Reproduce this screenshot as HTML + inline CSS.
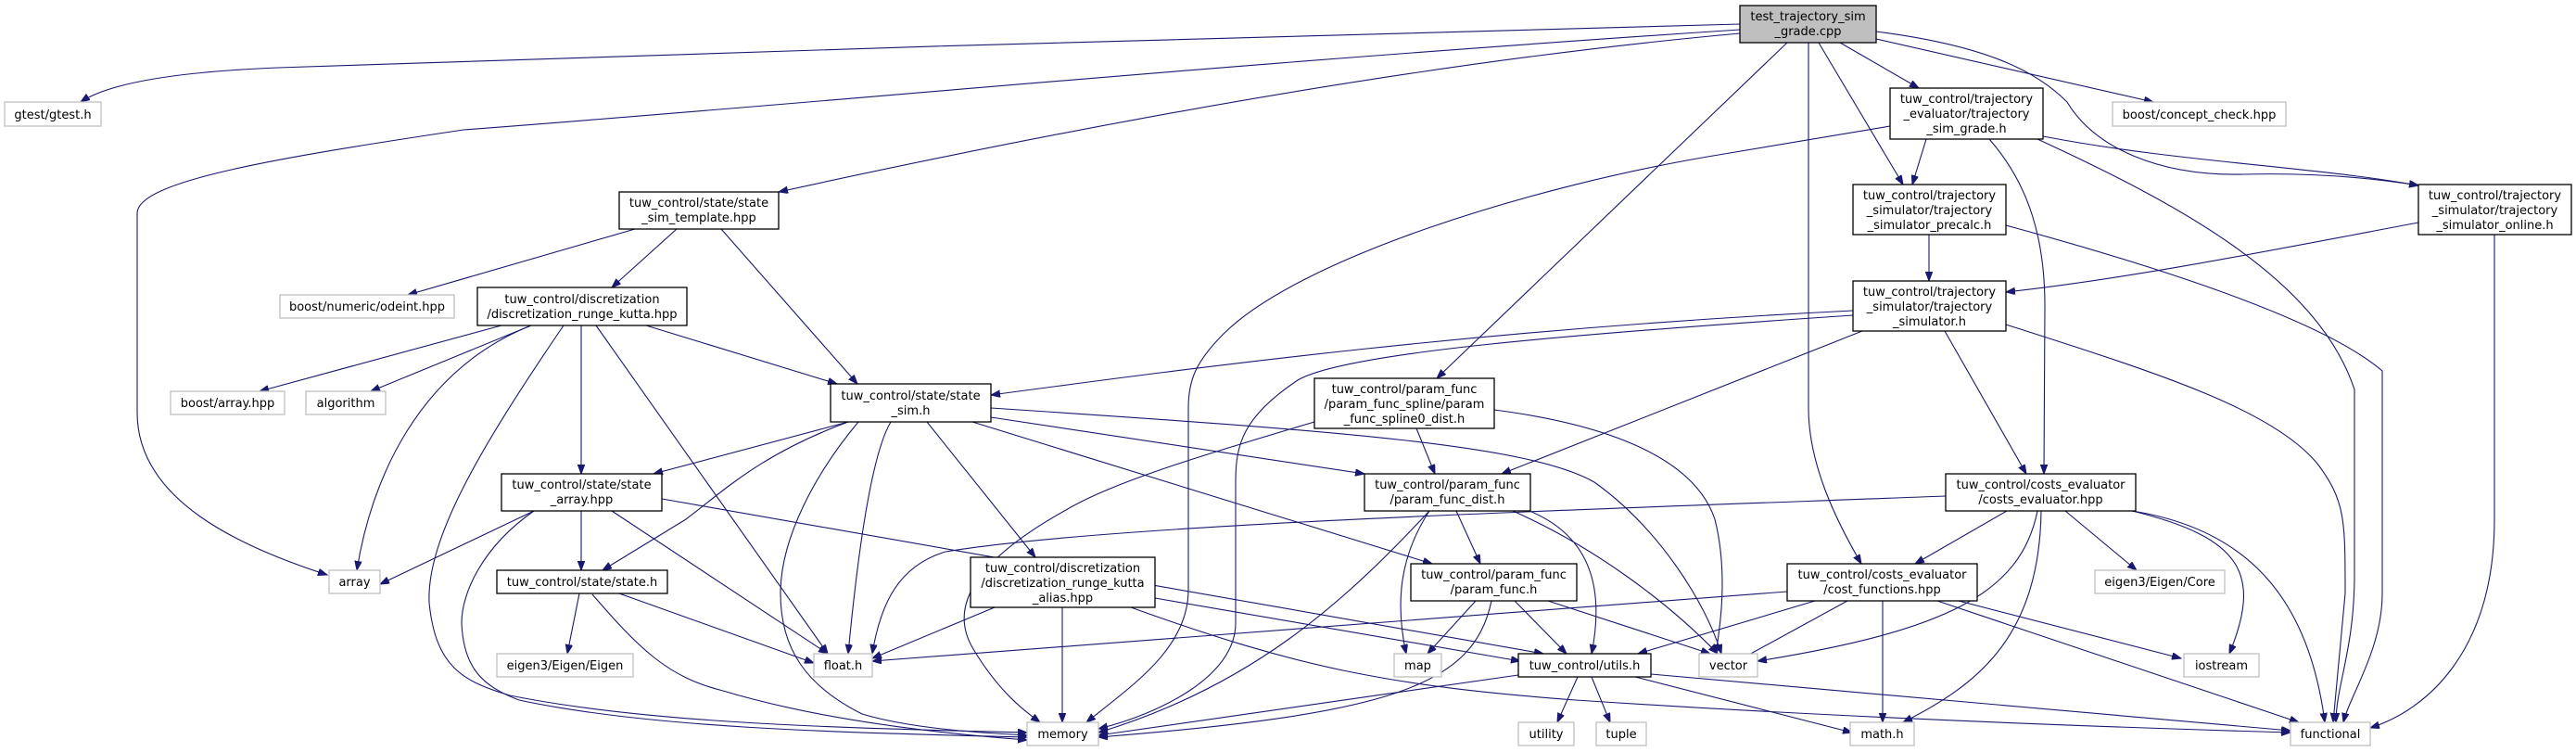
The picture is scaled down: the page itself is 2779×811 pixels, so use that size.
<!DOCTYPE html>
<html><head><meta charset="utf-8"><style>
html,body{margin:0;padding:0;background:#fff;}
svg{display:block;}
text{font-family:"DejaVu Sans","Liberation Sans",sans-serif;font-size:13px;fill:#000;}
.e{fill:none;stroke:#191970;stroke-width:1.1;marker-end:url(#a);}
.n{fill:#fff;stroke:#000;stroke-width:1.3;}
.x{fill:#fff;stroke:#bfbfbf;stroke-width:1.3;}
.t{fill:#bfbfbf;stroke:#000;stroke-width:1.3;}
</style></head><body>
<svg width="2779" height="811" viewBox="0 0 2779 811" xmlns="http://www.w3.org/2000/svg">
<defs><marker id="a" markerUnits="userSpaceOnUse" markerWidth="11" markerHeight="8" refX="10" refY="3.75" orient="auto"><path d="M0,0 L10,3.75 L0,7.5 z" fill="#191970" stroke="#191970"/></marker></defs>
<g>
<path class="e" d="M1877,26 C1400,38 800,55 300,73 C200,77 120,88 87,110"/>
<path class="e" d="M1877,32 C1300,70 900,110 500,140 C300,170 148,195 148,230 L148,445 C148,540 260,590 353,620"/>
<path class="e" d="M1877,36 C1500,70 1100,150 840,207"/>
<path class="e" d="M1928,46 L1550,408"/>
<path class="e" d="M1962,46 L2053,199"/>
<path class="e" d="M1985,46 L2070,95"/>
<path class="e" d="M2024,42 L2323,110"/>
<path class="e" d="M2024,34 C2150,50 2200,80 2230,110 C2260,160 2330,190 2420,188 C2500,186 2560,192 2609,200"/>
<path class="e" d="M1951,46 L1951,440 C1951,500 1980,560 2008,608"/>
<path class="e" d="M2039,136 L1860,166 C1650,200 1400,280 1320,360 C1290,390 1282,410 1282,440 L1282,636 C1282,700 1220,740 1172,779"/>
<path class="e" d="M2078,150 L2063,199"/>
<path class="e" d="M2146,150 C2190,200 2206,260 2206,330 L2205,511"/>
<path class="e" d="M2198,150 C2350,220 2500,300 2540,420 L2540,620 C2540,700 2520,740 2520,779"/>
<path class="e" d="M2204,147 C2350,175 2500,180 2609,200"/>
<path class="e" d="M2081,253 L2081,303"/>
<path class="e" d="M2164,243 C2300,280 2500,340 2570,400 L2570,640 C2570,700 2535,750 2528,779"/>
<path class="e" d="M2609,240 C2450,270 2300,300 2164,315"/>
<path class="e" d="M2691,253 L2691,560 C2691,700 2620,765 2557,785"/>
<path class="e" d="M1999,335 C1600,355 1300,395 1069,426"/>
<path class="e" d="M1999,340 C1700,360 1450,380 1400,410 C1340,450 1333,480 1333,520 L1333,672 C1333,730 1250,770 1185,786"/>
<path class="e" d="M2009,357 L1620,511"/>
<path class="e" d="M2098,357 L2186,511"/>
<path class="e" d="M2164,350 C2320,400 2450,440 2500,500 C2530,540 2530,560 2530,640 L2517,779"/>
<path class="e" d="M2099,535 C1700,550 1200,565 1020,595 C970,610 950,650 941,705"/>
<path class="e" d="M2165,551 L2066,608"/>
<path class="e" d="M2198,551 C2180,640 2100,680 1896,713"/>
<path class="e" d="M2202,551 C2200,690 2130,740 2053,779"/>
<path class="e" d="M2228,551 L2305,615"/>
<path class="e" d="M2300,551 C2420,580 2440,620 2405,705"/>
<path class="e" d="M2300,551 C2420,570 2490,640 2508,779"/>
<path class="e" d="M1928,638 L941,713"/>
<path class="e" d="M1958,648 L1767,705"/>
<path class="e" d="M1993,648 L1874,713"/>
<path class="e" d="M2031,648 L2031,779"/>
<path class="e" d="M2113,648 L2353,710"/>
<path class="e" d="M2090,648 L2480,779"/>
<path class="e" d="M685,247 L440,318"/>
<path class="e" d="M730,247 L660,310"/>
<path class="e" d="M778,247 L925,414"/>
<path class="e" d="M541,351 L280,422"/>
<path class="e" d="M573,351 L400,422"/>
<path class="e" d="M573,351 C450,400 400,520 385,615"/>
<path class="e" d="M608,351 C520,480 460,580 463,650 C470,720 500,735 550,750 C700,780 900,785 1108,790"/>
<path class="e" d="M627,351 L627,511"/>
<path class="e" d="M643,351 L893,705"/>
<path class="e" d="M697,351 L903,414"/>
<path class="e" d="M915,455 L705,511"/>
<path class="e" d="M915,455 C820,490 780,530 740,560 L650,615"/>
<path class="e" d="M926,455 C880,510 842,580 842,640 C842,700 870,740 930,770 C980,785 1050,790 1108,793"/>
<path class="e" d="M961,455 C940,490 925,600 915,705"/>
<path class="e" d="M1000,455 L1117,601"/>
<path class="e" d="M1069,450 L1472,511"/>
<path class="e" d="M1049,455 L1545,608"/>
<path class="e" d="M1069,440 C1450,465 1650,480 1720,520 C1790,570 1840,650 1857,705"/>
<path class="e" d="M576,551 L410,630"/>
<path class="e" d="M627,551 L627,615"/>
<path class="e" d="M660,551 L893,705"/>
<path class="e" d="M576,551 C520,590 498,640 498,672 C500,720 520,740 560,755 C700,785 900,790 1108,795"/>
<path class="e" d="M714,538 L1665,705"/>
<path class="e" d="M625,640 L612,705"/>
<path class="e" d="M668,640 L878,715"/>
<path class="e" d="M639,641 C690,700 720,730 780,745 C880,775 1000,790 1108,798"/>
<path class="e" d="M1073,655 L941,710"/>
<path class="e" d="M1146,655 L1146,779"/>
<path class="e" d="M1246,645 L1640,713"/>
<path class="e" d="M1220,655 C1400,720 1500,740 1700,755 C2000,775 2300,785 2471,790"/>
<path class="e" d="M1542,551 C1510,600 1505,650 1517,705"/>
<path class="e" d="M1571,551 L1597,608"/>
<path class="e" d="M1650,551 C1720,580 1730,640 1717,705"/>
<path class="e" d="M1632,551 C1720,590 1800,650 1853,705"/>
<path class="e" d="M1542,551 C1450,650 1350,740 1185,790"/>
<path class="e" d="M1528,462 L1548,511"/>
<path class="e" d="M1418,455 C1300,490 1200,520 1150,550 C1060,600 1020,650 1050,700 C1080,750 1110,770 1122,779"/>
<path class="e" d="M1612,442 C1750,460 1830,500 1850,560 C1865,620 1855,680 1851,705"/>
<path class="e" d="M1592,648 L1540,705"/>
<path class="e" d="M1609,648 C1590,740 1500,770 1185,795"/>
<path class="e" d="M1634,648 L1690,705"/>
<path class="e" d="M1670,648 L1845,705"/>
<path class="e" d="M1638,728 L1185,793"/>
<path class="e" d="M1702,730 L1680,779"/>
<path class="e" d="M1717,730 L1737,779"/>
<path class="e" d="M1764,730 L1998,790"/>
<path class="e" d="M1781,727 L2471,788"/>
</g>
<g>
<rect class="t" x="1877" y="6" width="147" height="40"/>
<text x="1950.5" y="22" text-anchor="middle">test_trajectory_sim</text><text x="1950.5" y="38" text-anchor="middle">_grade.cpp</text>
<rect class="x" x="5" y="110" width="104" height="26"/><text x="57" y="128" text-anchor="middle">gtest/gtest.h</text>
<rect class="n" x="668" y="207" width="172" height="40"/>
<text x="754" y="223" text-anchor="middle">tuw_control/state/state</text><text x="754" y="239" text-anchor="middle">_sim_template.hpp</text>
<rect class="x" x="302" y="318" width="188" height="25"/><text x="396" y="335" text-anchor="middle">boost/numeric/odeint.hpp</text>
<rect class="n" x="515" y="310" width="226" height="41"/>
<text x="628" y="327" text-anchor="middle">tuw_control/discretization</text><text x="628" y="343" text-anchor="middle">/discretization_runge_kutta.hpp</text>
<rect class="x" x="184" y="422" width="123" height="25"/><text x="245.5" y="439" text-anchor="middle">boost/array.hpp</text>
<rect class="x" x="330" y="422" width="86" height="25"/><text x="373" y="439" text-anchor="middle">algorithm</text>
<rect class="x" x="355" y="615" width="55" height="25"/><text x="382.5" y="632" text-anchor="middle">array</text>
<rect class="n" x="541" y="511" width="173" height="40"/>
<text x="627.5" y="527" text-anchor="middle">tuw_control/state/state</text><text x="627.5" y="543" text-anchor="middle">_array.hpp</text>
<rect class="n" x="536" y="615" width="184" height="25"/><text x="628" y="632" text-anchor="middle">tuw_control/state/state.h</text>
<rect class="x" x="536" y="705" width="147" height="25"/><text x="609.5" y="722" text-anchor="middle">eigen3/Eigen/Eigen</text>
<rect class="x" x="878" y="705" width="63" height="25"/><text x="909.5" y="722" text-anchor="middle">float.h</text>
<rect class="n" x="896" y="414" width="173" height="41"/>
<text x="982.5" y="431" text-anchor="middle">tuw_control/state/state</text><text x="982.5" y="447" text-anchor="middle">_sim.h</text>
<rect class="n" x="1418" y="408" width="194" height="54"/>
<text x="1515" y="424" text-anchor="middle">tuw_control/param_func</text><text x="1515" y="440" text-anchor="middle">/param_func_spline/param</text><text x="1515" y="456" text-anchor="middle">_func_spline0_dist.h</text>
<rect class="n" x="1472" y="511" width="179" height="40"/>
<text x="1561.5" y="527" text-anchor="middle">tuw_control/param_func</text><text x="1561.5" y="543" text-anchor="middle">/param_func_dist.h</text>
<rect class="n" x="1047" y="601" width="199" height="54"/>
<text x="1146.5" y="617" text-anchor="middle">tuw_control/discretization</text><text x="1146.5" y="633" text-anchor="middle">/discretization_runge_kutta</text><text x="1146.5" y="649" text-anchor="middle">_alias.hpp</text>
<rect class="n" x="1522" y="608" width="179" height="40"/>
<text x="1611.5" y="624" text-anchor="middle">tuw_control/param_func</text><text x="1611.5" y="640" text-anchor="middle">/param_func.h</text>
<rect class="x" x="1504" y="705" width="51" height="25"/><text x="1529.5" y="722" text-anchor="middle">map</text>
<rect class="n" x="1638" y="705" width="143" height="25"/><text x="1709.5" y="722" text-anchor="middle">tuw_control/utils.h</text>
<rect class="x" x="1833" y="705" width="63" height="25"/><text x="1864.5" y="722" text-anchor="middle">vector</text>
<rect class="x" x="1108" y="779" width="77" height="25"/><text x="1146.5" y="796" text-anchor="middle">memory</text>
<rect class="x" x="1638" y="779" width="60" height="25"/><text x="1668" y="796" text-anchor="middle">utility</text>
<rect class="x" x="1722" y="779" width="54" height="25"/><text x="1749" y="796" text-anchor="middle">tuple</text>
<rect class="n" x="2039" y="95" width="165" height="55"/>
<text x="2121.5" y="111" text-anchor="middle">tuw_control/trajectory</text><text x="2121.5" y="127" text-anchor="middle">_evaluator/trajectory</text><text x="2121.5" y="143" text-anchor="middle">_sim_grade.h</text>
<rect class="x" x="2279" y="110" width="187" height="26"/><text x="2372.5" y="128" text-anchor="middle">boost/concept_check.hpp</text>
<rect class="n" x="1999" y="199" width="165" height="54"/>
<text x="2081.5" y="215" text-anchor="middle">tuw_control/trajectory</text><text x="2081.5" y="231" text-anchor="middle">_simulator/trajectory</text><text x="2081.5" y="247" text-anchor="middle">_simulator_precalc.h</text>
<rect class="n" x="2609" y="199" width="165" height="54"/>
<text x="2691.5" y="215" text-anchor="middle">tuw_control/trajectory</text><text x="2691.5" y="231" text-anchor="middle">_simulator/trajectory</text><text x="2691.5" y="247" text-anchor="middle">_simulator_online.h</text>
<rect class="n" x="1999" y="303" width="165" height="54"/>
<text x="2081.5" y="319" text-anchor="middle">tuw_control/trajectory</text><text x="2081.5" y="335" text-anchor="middle">_simulator/trajectory</text><text x="2081.5" y="351" text-anchor="middle">_simulator.h</text>
<rect class="n" x="2099" y="511" width="205" height="40"/>
<text x="2201.5" y="527" text-anchor="middle">tuw_control/costs_evaluator</text><text x="2201.5" y="543" text-anchor="middle">/costs_evaluator.hpp</text>
<rect class="n" x="1928" y="608" width="205" height="40"/>
<text x="2030.5" y="624" text-anchor="middle">tuw_control/costs_evaluator</text><text x="2030.5" y="640" text-anchor="middle">/cost_functions.hpp</text>
<rect class="x" x="2260" y="615" width="140" height="25"/><text x="2330" y="632" text-anchor="middle">eigen3/Eigen/Core</text>
<rect class="x" x="2356" y="705" width="81" height="25"/><text x="2396.5" y="722" text-anchor="middle">iostream</text>
<rect class="x" x="1996" y="779" width="69" height="25"/><text x="2030.5" y="796" text-anchor="middle">math.h</text>
<rect class="x" x="2471" y="779" width="86" height="25"/><text x="2514" y="796" text-anchor="middle">functional</text>
</g>
</svg>
</body></html>
